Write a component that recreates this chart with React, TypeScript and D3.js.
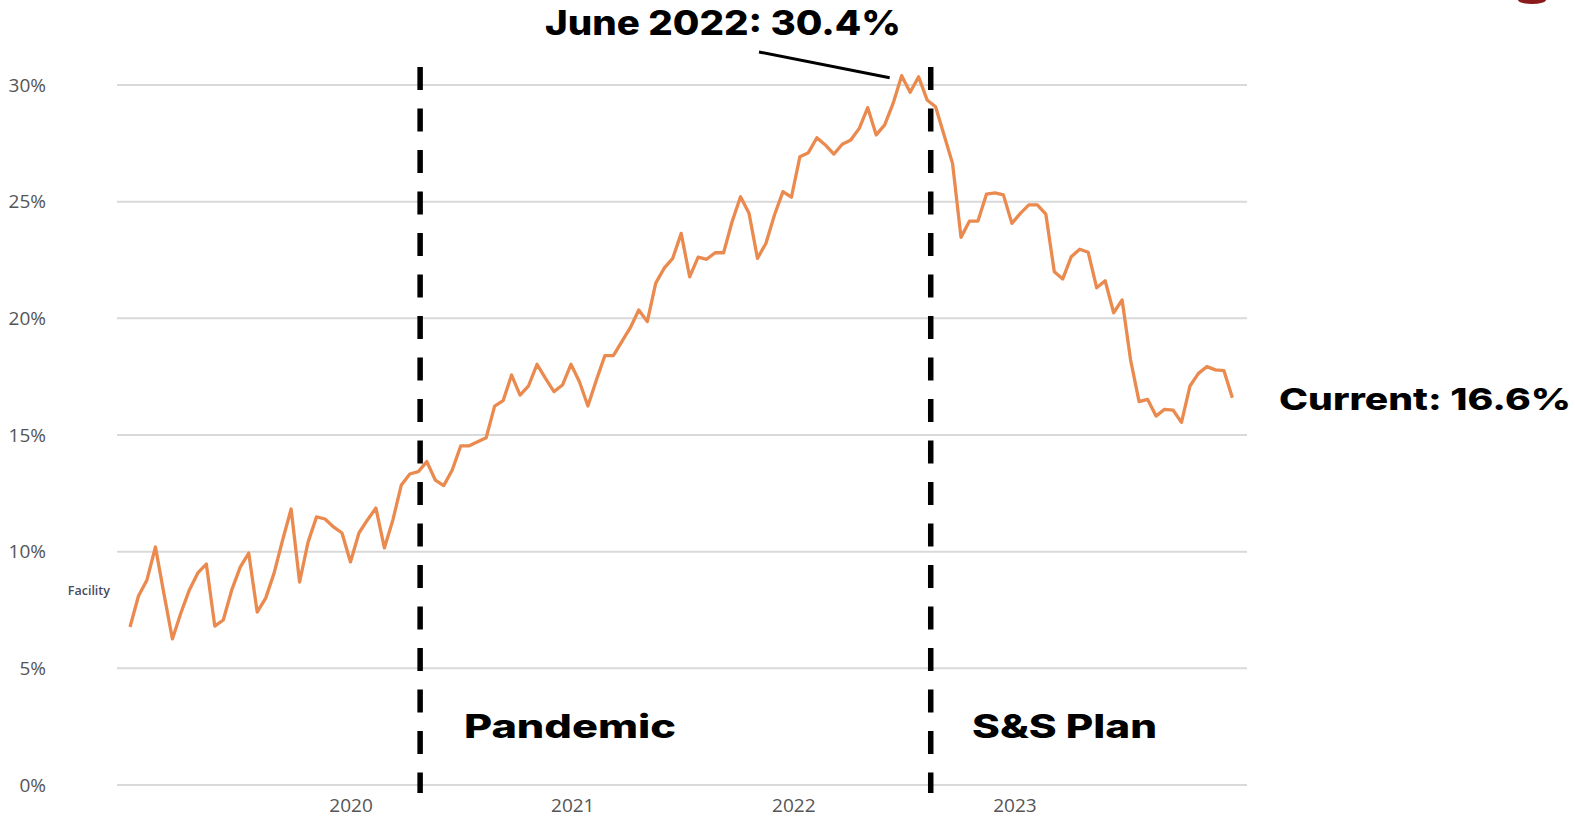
import React, { useEffect, useRef } from "react";
import { line, scaleLinear, scaleTime, select, timeDay } from "d3";

// biweekly readings starting Jan 2019
const startDate = new Date(2019, 0, 1);
const stepDays = 14;

const rates = [
  6.77, 8.1, 8.79, 10.2, 8.2, 6.26, 7.37, 8.36, 9.09, 9.47,
  6.81, 7.07, 8.36, 9.34, 9.94, 7.41, 8.01, 9.09, 10.5, 11.83,
  8.7, 10.41, 11.49, 11.4, 11.06, 10.8, 9.56, 10.8, 11.36, 11.87,
  10.16, 11.36, 12.86, 13.33, 13.43, 13.86, 13.07, 12.83, 13.5, 14.53,
  14.54, 14.71, 14.88, 16.24, 16.47, 17.57, 16.71, 17.11, 18.03, 17.43,
  16.86, 17.14, 18.03, 17.28, 16.24, 17.36, 18.4, 18.4, 19.0, 19.6,
  20.36, 19.86, 21.51, 22.15, 22.57, 23.64, 21.78, 22.62, 22.53, 22.81,
  22.81, 24.14, 25.21, 24.5, 22.57, 23.22, 24.43, 25.43, 25.19, 26.93,
  27.1, 27.74, 27.43, 27.04, 27.46, 27.64, 28.14, 29.03, 27.86, 28.29,
  29.22, 30.4, 29.69, 30.35, 29.36, 29.07, 27.86, 26.64, 23.47, 24.17,
  24.17, 25.32, 25.38, 25.29, 24.07, 24.5, 24.86, 24.86, 24.47, 22.0,
  21.69, 22.64, 22.96, 22.83, 21.31, 21.61, 20.24, 20.79, 18.21, 16.43,
  16.53, 15.81, 16.1, 16.07, 15.54, 17.1, 17.64, 17.93, 17.79, 17.76,
  16.6,
];

const yTicks = [0, 5, 10, 15, 20, 25, 30];
const yearTicks = [2020, 2021, 2022, 2023];
const markerDates = [new Date(2020, 3, 24), new Date(2022, 7, 15)];
const markerLabels = ["Pandemic", "S&S Plan"];
const peakLabel = "June 2022: 30.4%";
const currentLabel = "Current: 16.6%";
const seriesName = "Facility";

const width = 1575;
const height = 819;

type Pt = { date: Date; value: number };

export default function App() {
  const svgRef = useRef<SVGSVGElement | null>(null);

  useEffect(() => {
    document.body.style.margin = "0";
    const svg = select(svgRef.current)
      .attr("width", width)
      .attr("height", height)
      .style("background", "#ffffff")
      .style("display", "block");
    svg.selectAll("*").remove();

    const data: Pt[] = rates.map((v, i) => ({
      date: timeDay.offset(startDate, i * stepDays),
      value: v,
    }));

    const x = scaleTime()
      .domain([new Date(2019, 0, 1), new Date(2024, 0, 1)])
      .range([130, 1236]);
    const y = scaleLinear().domain([0, 30]).range([785, 85]);

    const axisFont = "'Open Sans', 'DejaVu Sans', sans-serif";
    const boldFont = "Inter, 'Open Sans', sans-serif";

    // grid
    svg
      .append("g")
      .selectAll("line")
      .data(yTicks)
      .join("line")
      .attr("x1", 117)
      .attr("x2", 1247)
      .attr("y1", (d) => y(d))
      .attr("y2", (d) => y(d))
      .attr("stroke", "#d9d9d9")
      .attr("stroke-width", 2);

    svg
      .append("g")
      .selectAll("text")
      .data(yTicks)
      .join("text")
      .attr("x", 46)
      .attr("y", (d) => y(d))
      .attr("dy", "0.35em")
      .attr("text-anchor", "end")
      .attr("font-family", axisFont)
      .attr("font-size", 19)
      .attr("fill", "#555555")
      .text((d) => `${d}%`);

    svg
      .append("g")
      .selectAll("text")
      .data(yearTicks)
      .join("text")
      .attr("x", (d) => x(new Date(d, 0, 1)))
      .attr("y", 805)
      .attr("dy", "0.35em")
      .attr("text-anchor", "middle")
      .attr("font-family", axisFont)
      .attr("font-size", 19)
      .attr("fill", "#555555")
      .text((d) => String(d));

    svg
      .append("text")
      .attr("x", 110)
      .attr("y", 595)
      .attr("text-anchor", "end")
      .attr("font-family", axisFont)
      .attr("font-size", 12.5)
      .attr("font-weight", 600)
      .attr("fill", "#4a4a5e")
      .text(seriesName);

    // series
    const lineFn = line<Pt>()
      .x((d) => x(d.date))
      .y((d) => y(d.value));

    svg
      .append("path")
      .datum(data)
      .attr("fill", "none")
      .attr("stroke", "#EA8A4E")
      .attr("stroke-width", 3.3)
      .attr("stroke-linejoin", "round")
      .attr("d", lineFn);

    // event markers
    svg
      .append("g")
      .selectAll("line")
      .data(markerDates)
      .join("line")
      .attr("x1", (d) => x(d))
      .attr("x2", (d) => x(d))
      .attr("y1", 67)
      .attr("y2", 793)
      .attr("stroke", "#000000")
      .attr("stroke-width", 5.5)
      .attr("stroke-dasharray", "23 18.5");

    const labelPos = [
      { x: 464, len: 212 },
      { x: 972, len: 185 },
    ];
    svg
      .append("g")
      .selectAll("text")
      .data(markerLabels)
      .join("text")
      .attr("x", (_, i) => labelPos[i].x)
      .attr("y", 738)
      .attr("font-family", boldFont)
      .attr("font-weight", 800)
      .attr("font-size", 32)
      .attr("fill", "#000000")
      .attr("textLength", (_, i) => labelPos[i].len)
      .attr("lengthAdjust", "spacingAndGlyphs")
      .text((d) => d);

    // peak callout
    const peak = data.reduce((a, b) => (b.value > a.value ? b : a));
    svg
      .append("line")
      .attr("x1", 759)
      .attr("y1", 52)
      .attr("x2", x(peak.date) - 12)
      .attr("y2", y(peak.value) + 2)
      .attr("stroke", "#000000")
      .attr("stroke-width", 3);

    svg
      .append("text")
      .attr("x", 545)
      .attr("y", 35)
      .attr("font-family", boldFont)
      .attr("font-weight", 800)
      .attr("font-size", 34)
      .attr("fill", "#000000")
      .attr("textLength", 356)
      .attr("lengthAdjust", "spacingAndGlyphs")
      .text(peakLabel);

    svg
      .append("text")
      .attr("x", 1279)
      .attr("y", 410)
      .attr("font-family", boldFont)
      .attr("font-weight", 800)
      .attr("font-size", 30)
      .attr("fill", "#000000")
      .attr("textLength", 292)
      .attr("lengthAdjust", "spacingAndGlyphs")
      .text(currentLabel);

    // cut-off logo in the corner
    svg
      .append("ellipse")
      .attr("cx", 1532)
      .attr("cy", 0)
      .attr("rx", 14)
      .attr("ry", 4)
      .attr("fill", "#8b1a1a");
  }, []);

  return <svg ref={svgRef}></svg>;
}
